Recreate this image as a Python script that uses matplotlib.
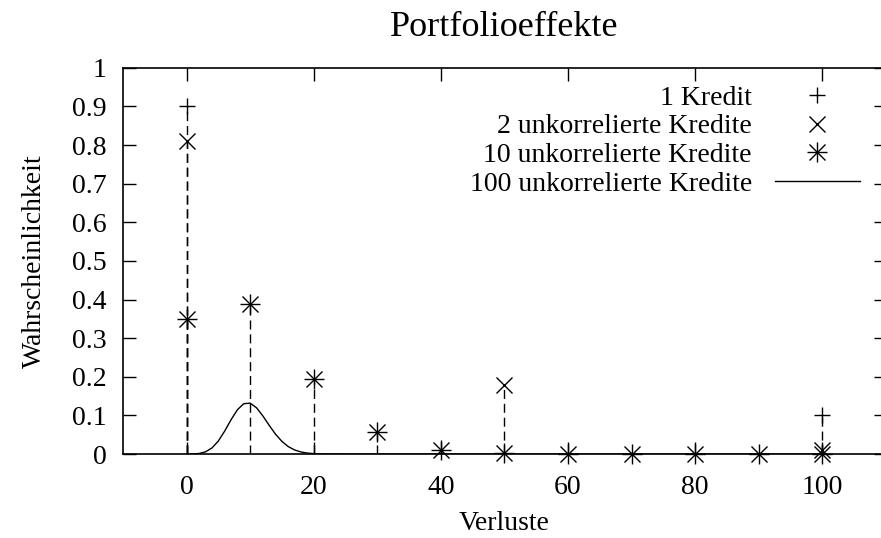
import numpy as np
import matplotlib.pyplot as plt
from matplotlib.lines import Line2D

plt.rcParams['font.family'] = ['Liberation Serif', 'DejaVu Serif']

# Verlustverteilungen (Verlust in % des Portfolios, Wahrscheinlichkeit)
x1 = [0, 100]
p1 = [0.9, 0.1]

x2 = [0, 50, 100]
p2 = [0.81, 0.18, 0.01]

x10 = [0, 10, 20, 30, 40, 50, 60, 70, 80, 90, 100]
p10 = [0.3487, 0.3874, 0.1937, 0.0574, 0.0112, 0.0015, 0.0001, 0.0, 0.0, 0.0, 0.0]

x100 = [0, 1, 2, 3, 4, 5, 6, 7, 8, 9, 10, 11, 12, 13, 14, 15, 16, 17, 18,
        19, 20, 21, 22, 23, 24, 25, 100]
p100 = [0.0000, 0.0003, 0.0016, 0.0059, 0.0159, 0.0339, 0.0596, 0.0889,
        0.1148, 0.1304, 0.1319, 0.1199, 0.0988, 0.0743, 0.0513, 0.0327,
        0.0193, 0.0106, 0.0054, 0.0026, 0.0012, 0.0005, 0.0002, 0.0001,
        0.0, 0.0, 0.0]

fig = plt.figure(figsize=(8.81, 5.38), dpi=100)
ax = fig.add_axes([0.1396, 0.156, 0.866, 0.718])

fs = 20

def impulses(xs, ps):
    ax.vlines(xs, 0, ps, colors='black', linestyles=(0, (6.5, 3.5)), linewidth=1.0)

impulses(x1, p1)
impulses(x2, p2)
impulses(x10, p10)
ax.plot(x100, p100, color='black', linewidth=1.0)

mk = dict(color='black', linestyle='none', clip_on=False, zorder=5)
ax.plot(x1, p1, marker='+', markersize=12, markeredgewidth=1.0, **mk)
ax.plot(x2, p2, marker='x', markersize=11, markeredgewidth=1.0, **mk)
ax.plot(x10, p10, marker='+', markersize=15, markeredgewidth=1.0, **mk)
ax.plot(x10, p10, marker='x', markersize=11, markeredgewidth=1.0, **mk)

ax.set_xlim(-10, 110)
ax.set_ylim(0, 1)
ax.set_xticks([0, 20, 40, 60, 80, 100])
ax.set_yticks(np.arange(0, 1.01, 0.1))
ax.set_yticklabels(['0', '0.1', '0.2', '0.3', '0.4', '0.5', '0.6', '0.7',
                    '0.8', '0.9', '1'])
ax.tick_params(direction='in', length=9, width=1.0, top=True, right=True,
               labelsize=fs, pad=12)
ax.tick_params(axis='x', pad=15)
for s in ax.spines.values():
    s.set_linewidth(1.2)

ax.set_title('Portfolioeffekte', fontsize=26, pad=23)
ax.set_xlabel('Verluste', fontsize=fs, labelpad=8)
ax.set_ylabel('Wahrscheinlichkeit', fontsize=fs, labelpad=18)

handles = [
    Line2D([], [], color='black', linestyle='none', marker='+', markersize=12),
    Line2D([], [], color='black', linestyle='none', marker='x', markersize=11),
    (Line2D([], [], color='black', linestyle='none', marker='+', markersize=15),
     Line2D([], [], color='black', linestyle='none', marker='x', markersize=11)),
    Line2D([], [], color='black', linewidth=1.0),
]
labels = ['1 Kredit', '2 unkorrelierte Kredite', '10 unkorrelierte Kredite',
          '100 unkorrelierte Kredite']
ax.legend(handles, labels, loc='upper right', bbox_to_anchor=(0.966, 0.955),
          frameon=False, markerfirst=False, fontsize=fs, handlelength=3.06,
          handletextpad=0.83, labelspacing=0.12, borderaxespad=0, borderpad=0)

fig.savefig('out.png', dpi=100)
